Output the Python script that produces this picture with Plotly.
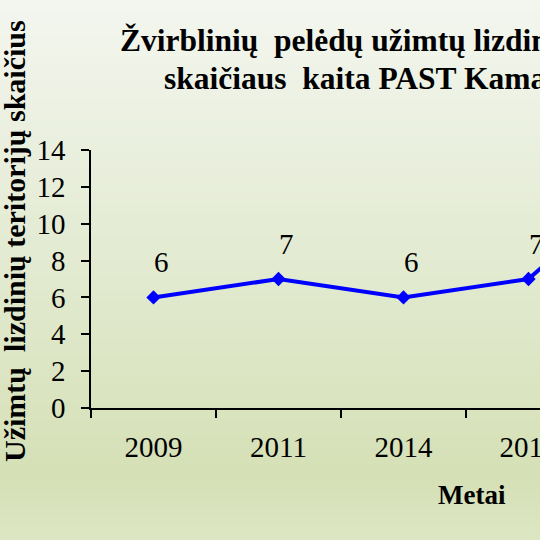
import plotly.graph_objects as go
import zlib, struct, base64

years = ["2009", "2011", "2014", "2016", "2018"]
values = [6, 7, 6, 7, 13]
title_line1 = "Žvirblinių  pelėdų užimtų lizdinių teritorijų"
title_line2 = "skaičiaus  kaita PAST Kamanų rezervate"
y_title = "Užimtų  lizdinių teritorijų skaičius"
x_title = "Metai"

W, H = 540, 540
FONT = "Liberation Serif"
L, R, T, B = 91, 540, 150, 408
PW, PH = R - L, B - T

fig = go.Figure()
fig.add_trace(go.Scatter(
    x=years, y=values, mode="lines+markers",
    line=dict(color="#0000ff", width=4),
    marker=dict(symbol="diamond", size=11, color="#0000ff"),
    cliponaxis=True, showlegend=False, hoverinfo="skip",
))

# background gradient image (top light -> bottom green)
def lerp(c1, c2, t):
    return tuple(round(a + (b - a) * t) for a, b in zip(c1, c2))
stops = [(0.0, (243, 246, 239)), (0.5, (226, 234, 208)), (0.88, (213, 224, 182)), (1.0, (220, 230, 194))]
rows = b""
for i in range(H):
    t = (i + 0.5) / H
    for j in range(len(stops) - 1):
        if stops[j][0] <= t <= stops[j + 1][0]:
            tt = (t - stops[j][0]) / (stops[j + 1][0] - stops[j][0])
            c = lerp(stops[j][1], stops[j + 1][1], tt)
            break
    rows += b"\x00" + bytes(c) * 2
def chunk(tag, data):
    return struct.pack(">I", len(data)) + tag + data + struct.pack(">I", zlib.crc32(tag + data) & 0xffffffff)
png = (b"\x89PNG\r\n\x1a\n" + chunk(b"IHDR", struct.pack(">IIBBBBB", 2, H, 8, 2, 0, 0, 0))
       + chunk(b"IDAT", zlib.compress(rows)) + chunk(b"IEND", b""))
src = "data:image/png;base64," + base64.b64encode(png).decode()

def px(x):
    return (x - L) / PW
def py(y):
    return (B - y) / PH

annotations = []
for i, (x, v) in enumerate(zip(years, values)):
    annotations.append(dict(x=i, y=v, xref="x", yref="y", text=str(v), showarrow=False, xshift=8, yshift=35,
                            font=dict(family=FONT, size=29, color="#000")))
annotations += [
    dict(xref="paper", yref="paper", x=px(118), y=py(41), xanchor="left", yanchor="middle",
         text="<b>" + title_line1 + "</b>", showarrow=False, font=dict(family=FONT, size=31.5, color="#000")),
    dict(xref="paper", yref="paper", x=px(162), y=py(79), xanchor="left", yanchor="middle",
         text="<b>" + title_line2 + "</b>", showarrow=False, font=dict(family=FONT, size=31.5, color="#000")),
    dict(xref="paper", yref="paper", x=px(472), y=py(495), xanchor="center", yanchor="middle",
         text="<b>" + x_title + "</b>", showarrow=False, font=dict(family=FONT, size=27, color="#000")),
    dict(xref="paper", yref="paper", x=px(14), y=py(241), xanchor="center", yanchor="middle",
         text="<b>" + y_title + "</b>", textangle=-90, showarrow=False, font=dict(family=FONT, size=30, color="#000")),
]

fig.update_layout(
    width=W, height=H, autosize=False,
    margin=dict(l=L, r=W - R, t=T, b=H - B, pad=0),
    paper_bgcolor="rgba(0,0,0,0)", plot_bgcolor="rgba(0,0,0,0)",
    images=[dict(source=src, xref="paper", yref="paper", x=px(0), y=py(0), sizex=W / PW, sizey=H / PH,
                 xanchor="left", yanchor="top", sizing="stretch", layer="below")],
    annotations=annotations,
    font=dict(family=FONT, color="#000"),
    xaxis=dict(type="category", range=[-0.5, -0.5 + PW / 125], showgrid=False, zeroline=False, automargin=False,
               showline=True, linecolor="#000", linewidth=1.5, ticks="outside", ticklen=8,
               tickcolor="#000", tickwidth=1.5, tickson="boundaries", ticklabelstandoff=12,
               tickfont=dict(family=FONT, size=29, color="#000")),
    yaxis=dict(range=[0, 14], dtick=2, showgrid=False, zeroline=False, automargin=False,
               showline=True, linecolor="#000", linewidth=1.5, ticks="outside", ticklen=8,
               tickcolor="#000", tickwidth=1.5, ticklabelstandoff=10,
               tickfont=dict(family=FONT, size=29, color="#000")),
)

fig.write_html("out.html")
